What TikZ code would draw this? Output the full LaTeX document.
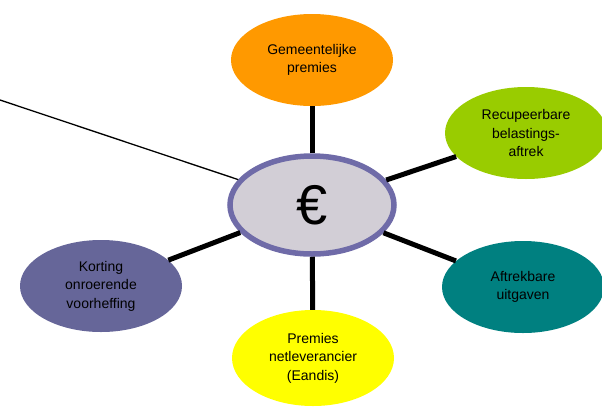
\documentclass[tikz,border=0pt]{standalone}
\usepackage{fontspec}
\setmainfont{Liberation Sans}
\usepackage{tikz}
\usetikzlibrary{shapes.geometric}

\definecolor{oranje}{HTML}{FF9900}
\definecolor{lime}{HTML}{99CC00}
\definecolor{petrol}{HTML}{008080}
\definecolor{geel}{HTML}{FFFF00}
\definecolor{paars}{HTML}{666699}
\definecolor{rand}{HTML}{6F6BA8}
\definecolor{grijs}{HTML}{D2CED6}

\tikzset{
  blob/.style={ellipse, minimum width=162pt, minimum height=92pt, inner sep=0pt,
    align=center, font=\fontsize{14}{18.5}\selectfont},
  spoke/.style={line width=5pt},
}

\begin{document}
\begin{tikzpicture}[x=1pt, y=-1pt]
    \useasboundingbox (0,0) rectangle (602,408);
    %centre
    \node[ellipse, draw=rand, line width=5.5pt, fill=grijs, minimum width=164pt, minimum height=98pt,
      font=\fontsize{56}{56}\selectfont] (euro) at (312,205) {€};

    %outer ellipses
    \node[blob, fill=oranje] (gem) at (312,60) {Gemeentelijke\\premies};
    \node[blob, fill=lime] (rec) at (526,133) {Recupeerbare\\belastings-\\aftrek};
    \node[blob, fill=petrol] (aft) at (523,287) {Aftrekbare\\uitgaven};
    \node[blob, fill=geel, minimum height=96pt] (net) at (313,358) {Premies\\netleverancier\\(Eandis)};
    \node[blob, fill=paars] (kor) at (101,286) {Korting\\onroerende\\voorheffing};

    %spokes
    \path[draw,spoke] (euro)--(gem);
    \path[draw,spoke] (euro)--(rec);
    \path[draw,spoke] (euro)--(aft);
    \path[draw,spoke] (euro)--(net);
    \path[draw,spoke] (euro)--(kor);

    %pointer line
    \coordinate (wijzer) at (0,100);
    \path[draw, line width=1.3pt] (wijzer)--(euro.161);
  \end{tikzpicture}
\end{document}
